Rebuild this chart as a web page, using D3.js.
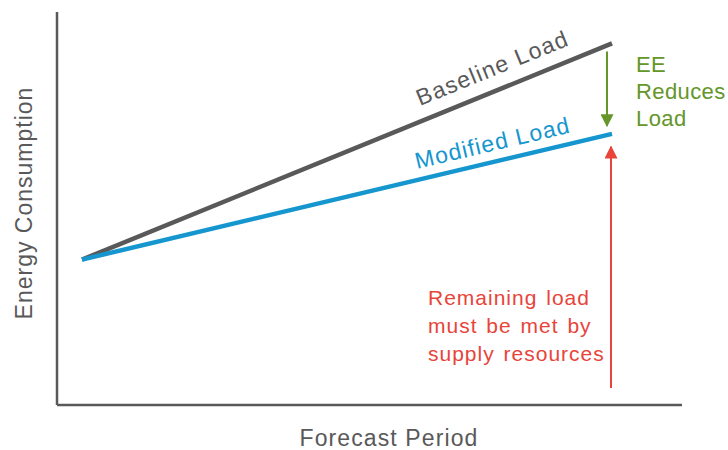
<!DOCTYPE html>
<html>
<head>
<meta charset="utf-8">
<script src="https://cdn.jsdelivr.net/npm/d3@7"></script>
<style>
  body { margin: 0; background: #fff; }
  text { font-family: "Liberation Sans", Arial, sans-serif; }
</style>
</head>
<body>
<div id="chart"></div>
<script>
// forecast period (start, end) and load values
const periods = [1, 22.2];
const baselineLoad = [37, 92];
const modifiedLoad = [37, 69];
const axisTitles = ["Forecast Period", "Energy Consumption"];

const width = 728, height = 450;

const svg = d3.select("#chart")
  .append("svg")
  .attr("width", width)
  .attr("height", height);

const x = d3.scaleLinear().domain([0, 25]).range([57, 682]);
const y = d3.scaleLinear().domain([0, 100]).range([405, 12]);

// axes (no ticks)
svg.append("line")
  .attr("x1", x(0)).attr("x2", x(0))
  .attr("y1", y(100)).attr("y2", y(0))
  .attr("stroke", "#595959").attr("stroke-width", 2.5);
svg.append("line")
  .attr("x1", x(0)).attr("x2", x(25))
  .attr("y1", y(0)).attr("y2", y(0))
  .attr("stroke", "#595959").attr("stroke-width", 2.5);

const line = d3.line().x(d => x(d[0])).y(d => y(d[1]));

const baseline = d3.zip(periods, baselineLoad);
const modified = d3.zip(periods, modifiedLoad);

svg.append("path")
  .attr("d", line(baseline))
  .attr("fill", "none")
  .attr("stroke", "#595959")
  .attr("stroke-width", 4.5);

svg.append("path")
  .attr("d", line(modified))
  .attr("fill", "none")
  .attr("stroke", "#1596cf")
  .attr("stroke-width", 4.5);

// arrow heads
const defs = svg.append("defs");
[["greenHead", "#64962a"], ["redHead", "#e8443a"]].forEach(([id, c]) => {
  defs.append("marker")
    .attr("id", id)
    .attr("viewBox", "0 0 10 10")
    .attr("refX", 9).attr("refY", 5)
    .attr("markerWidth", 13).attr("markerHeight", 13)
    .attr("markerUnits", "userSpaceOnUse")
    .attr("orient", "auto")
    .append("path")
    .attr("d", "M0,0 L10,5 L0,10 Z")
    .attr("fill", c);
});

const arrowX = periods[1];
svg.append("line")
  .attr("x1", x(arrowX) - 5).attr("x2", x(arrowX) - 5)
  .attr("y1", y(baselineLoad[1]) + 8)
  .attr("y2", y(modifiedLoad[1]) - 8)
  .attr("stroke", "#64962a").attr("stroke-width", 2)
  .attr("marker-end", "url(#greenHead)");

svg.append("line")
  .attr("x1", x(arrowX) - 1).attr("x2", x(arrowX) - 1)
  .attr("y1", y(4.3))
  .attr("y2", y(modifiedLoad[1]) + 13)
  .attr("stroke", "#e8443a").attr("stroke-width", 2)
  .attr("marker-end", "url(#redHead)");

// line labels rotated along the lines
function angleOf(pts) {
  const [a, b] = pts;
  return Math.atan2(y(b[1]) - y(a[1]), x(b[0]) - x(a[0])) * 180 / Math.PI;
}

svg.append("text")
  .attr("transform", `translate(420,106) rotate(${angleOf(baseline)})`)
  .attr("font-size", 23)
  .attr("letter-spacing", 1.3)
  .attr("fill", "#595959")
  .text("Baseline Load");

svg.append("text")
  .attr("transform", `translate(417,169) rotate(${angleOf(modified)})`)
  .attr("font-size", 23)
  .attr("letter-spacing", 1.1)
  .attr("fill", "#1596cf")
  .text("Modified Load");

// annotations
const greenText = ["EE", "Reduces", "Load"];
svg.append("g").selectAll("text")
  .data(greenText)
  .join("text")
  .attr("x", 636)
  .attr("y", (d, i) => 72 + i * 27)
  .attr("font-size", 22)
  .attr("letter-spacing", 0.4)
  .attr("fill", "#64962a")
  .text(d => d);

const redText = ["Remaining load", "must be met by", "supply resources"];
svg.append("g").selectAll("text")
  .data(redText)
  .join("text")
  .attr("x", 428)
  .attr("y", (d, i) => 305 + i * 28)
  .attr("font-size", 21)
  .attr("letter-spacing", 1)
  .attr("word-spacing", 2)
  .attr("fill", "#e8443a")
  .text(d => d);

// axis titles
svg.append("text")
  .attr("x", 389).attr("y", 446)
  .attr("text-anchor", "middle")
  .attr("font-size", 23)
  .attr("letter-spacing", 1.1)
  .attr("fill", "#595959")
  .text(axisTitles[0]);

svg.append("text")
  .attr("transform", "translate(32,203) rotate(-90)")
  .attr("text-anchor", "middle")
  .attr("font-size", 23)
  .attr("letter-spacing", 1)
  .attr("fill", "#595959")
  .text(axisTitles[1]);
</script>
</body>
</html>
